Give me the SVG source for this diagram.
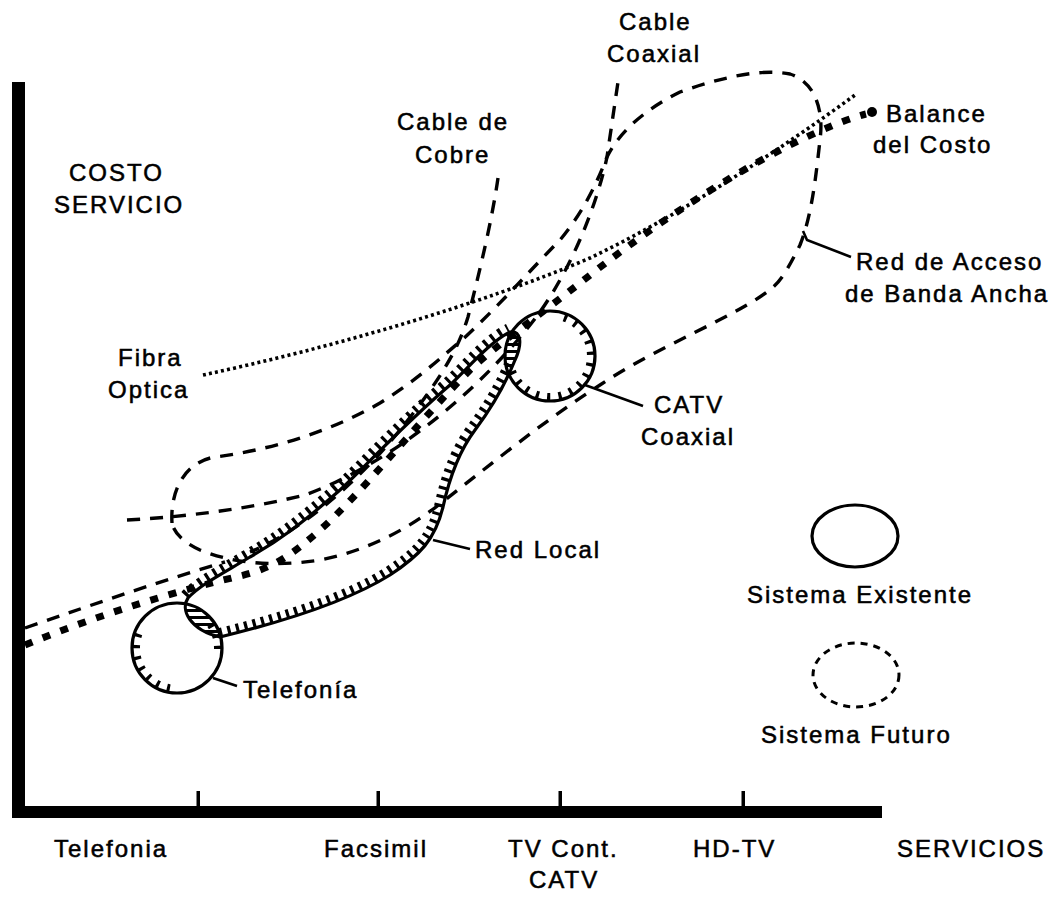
<svg xmlns="http://www.w3.org/2000/svg" width="1060" height="898" viewBox="0 0 1060 898">
<style>
  text { font-family: "Liberation Sans", Arial, Helvetica, sans-serif; font-size: 24px; letter-spacing: 2px; fill: #000; stroke: #000; stroke-width: 0.55px; }
  .solid { fill: none; stroke: #000; stroke-width: 3.2; }
  .dash { fill: none; stroke: #000; stroke-width: 3.4; stroke-dasharray: 13 10; }
  .leader { fill: none; stroke: #000; stroke-width: 2.6; }
  .hatch { fill: none; stroke: #000; stroke-width: 18; stroke-dasharray: 3.2 5.5; }
  .chatch { fill: none; stroke: #000; stroke-width: 16; stroke-dasharray: 3.5 9; }
</style>
<defs>
  <path id="bandShape" d="M 220,637 C 290,620 350,600 390,575 C 420,555 435,540 443,507 C 450,475 460,450 475,430 C 490,410 505,385 515,360 C 522,345 522,330 510,332 C 490,342 470,366 450,385 C 400,428 370,462 340,490 C 300,525 280,540 250,557 C 220,575 200,585 188,598 C 180,610 190,630 220,637 Z"/>
  <clipPath id="bandIn"><use href="#bandShape"/></clipPath>
  <clipPath id="bandOut"><path clip-rule="evenodd" d="M0,0H1060V898H0Z M 220,637 C 290,620 350,600 390,575 C 420,555 435,540 443,507 C 450,475 460,450 475,430 C 490,410 505,385 515,360 C 522,345 522,330 510,332 C 490,342 470,366 450,385 C 400,428 370,462 340,490 C 300,525 280,540 250,557 C 220,575 200,585 188,598 C 180,610 190,630 220,637 Z"/></clipPath>
  <clipPath id="telIn"><circle cx="177" cy="648" r="45"/></clipPath>
  <clipPath id="catvIn"><circle cx="550" cy="356" r="45"/></clipPath>
  <pattern id="stripes" width="8" height="7" patternUnits="userSpaceOnUse">
    <rect x="0" y="0" width="8" height="3" fill="#000"/>
  </pattern>
</defs>
<rect width="1060" height="898" fill="#fff"/>

<g id="axes">
  <rect x="12" y="82" width="13" height="736" fill="#000"/>
  <rect x="12" y="806" width="870" height="12" fill="#000"/>
  <rect x="196.5" y="791" width="3.5" height="16" fill="#000"/>
  <rect x="376.5" y="791" width="3.5" height="16" fill="#000"/>
  <rect x="558.5" y="791" width="3.5" height="16" fill="#000"/>
  <rect x="741.5" y="791" width="3.5" height="16" fill="#000"/>
  <text x="69" y="181">COSTO</text>
  <text x="54" y="213">SERVICIO</text>
  <text x="54" y="857">Telefonia</text>
  <text x="324" y="857">Facsimil</text>
  <text x="508" y="857">TV Cont.</text>
  <text x="529" y="888">CATV</text>
  <text x="693" y="857">HD-TV</text>
  <text x="897" y="857">SERVICIOS</text>
</g>

<g id="connectors">
  <!-- Red de Acceso de Banda Ancha future region -->
  <path class="dash" d="M 172,523 C 170,490 185,462 215,457 C 270,450 330,432 380,403 C 420,378 440,358 462,340 C 500,305 535,265 560,240 C 585,210 598,180 607,157 C 618,135 640,112 680,92 C 720,78 760,68 790,74 C 815,82 824,110 820,140 C 816,175 812,215 800,245 C 790,265 782,280 772,288 C 740,315 660,345 600,385 C 545,420 490,465 445,500 C 410,528 370,550 320,560 C 270,568 230,562 200,550 C 183,542 174,533 172,523 Z"/>
  <path class="dash" d="M 25,628 C 100,602 170,578 225,562"/>
  <!-- Cable de Cobre -->
  <path class="dash" d="M 498,178 C 492,220 480,270 468,317 C 458,350 440,380 400,430 C 360,480 300,532 250,552"/>
  <!-- Cable Coaxial -->
  <path class="dash" d="M 127,520 C 200,516 260,506 305,495 C 400,460 490,380 540,312 C 575,262 598,200 607,157 L 618,82"/>
  <!-- Fibra Optica -->
  <path fill="none" stroke="#000" stroke-width="3.6" stroke-dasharray="3 3.2" d="M 203,375 C 330,348 480,305 590,258 C 680,215 780,150 855,95"/>
  <!-- Balance del Costo -->
  <path fill="none" stroke="#000" stroke-width="7" stroke-dasharray="8 11" d="M 25,645 C 100,614 180,590 240,576 C 275,568 295,552 320,530 C 360,495 420,420 470,370 C 500,342 540,315 580,283 C 640,235 720,180 790,145 C 820,130 850,118 866,114"/>
  <circle cx="872" cy="112" r="5" fill="#000"/>
  <!-- leaders -->
  <path class="leader" d="M 803,231 L 807,240 L 851,257"/>
  <path class="leader" d="M 585,385 L 643,406"/>
  <path class="leader" d="M 433,540 L 470,549"/>
  <path class="leader" d="M 213,678 L 237,686"/>
</g>

<g id="red-local">
  <use href="#bandShape" class="solid"/>
  <path class="hatch" clip-path="url(#bandOut)" d="M 188,598 C 200,585 220,575 250,557 C 280,540 300,525 340,490 C 370,462 400,428 450,385 C 470,366 490,342 510,332"/>
  <path class="hatch" clip-path="url(#bandIn)" d="M 220,637 C 290,620 350,600 390,575 C 420,555 435,540 443,507 C 450,475 460,450 475,430 C 490,410 505,385 515,360"/>
  <text x="475" y="558">Red Local</text>
</g>

<g id="telefonia">
  <circle cx="177" cy="648" r="45" class="solid"/>
  <circle cx="177" cy="648" r="45" fill="url(#stripes)" clip-path="url(#bandIn)"/>
  <path class="chatch" clip-path="url(#telIn)" d="M 134.7,632.6 A 45 45 0 0 0 169.2,692.3"/>
  <path class="chatch" clip-path="url(#telIn)" d="M 213.9,622.2 A 45 45 0 0 1 221.3,655.8"/>
  <text x="243" y="698">Telefonía</text>
</g>

<g id="catv">
  <circle cx="550" cy="356" r="45" class="solid"/>
  <circle cx="550" cy="356" r="45" fill="url(#stripes)" clip-path="url(#bandIn)"/>
  <path class="chatch" clip-path="url(#catvIn)" d="M 565.4,313.7 A 45 45 0 1 1 507.7,371.4"/>
  <text x="654" y="413">CATV</text>
  <text x="641" y="445">Coaxial</text>
</g>

<g id="labels">
  <text x="397" y="130">Cable de</text>
  <text x="415" y="163">Cobre</text>
  <text x="619" y="30">Cable</text>
  <text x="607" y="62">Coaxial</text>
  <text x="886" y="122">Balance</text>
  <text x="873" y="153">del Costo</text>
  <text x="856" y="270">Red de Acceso</text>
  <text x="845" y="302">de Banda Ancha</text>
  <text x="118" y="366">Fibra</text>
  <text x="108" y="398">Optica</text>
</g>

<g id="legend">
  <ellipse cx="855" cy="536" rx="43" ry="31" class="solid"/>
  <text x="747" y="603">Sistema Existente</text>
  <ellipse cx="856" cy="675" rx="43" ry="32" fill="none" stroke="#000" stroke-width="3" stroke-dasharray="7 6"/>
  <text x="761" y="743">Sistema Futuro</text>
</g>
</svg>
